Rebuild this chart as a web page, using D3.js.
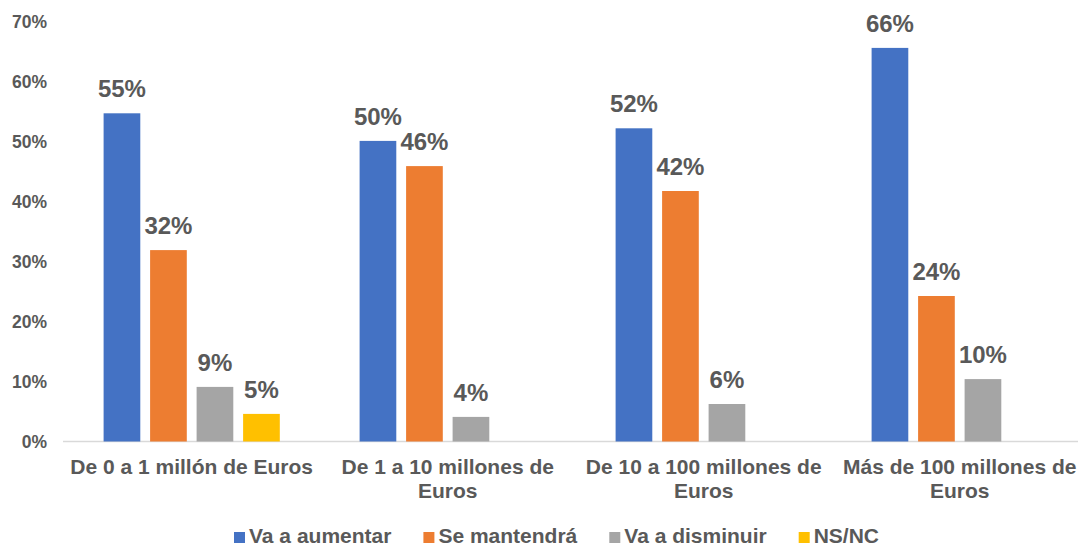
<!DOCTYPE html>
<html>
<head>
<meta charset="utf-8">
<script src="https://cdn.jsdelivr.net/npm/d3@7"></script>
<style>
  html, body { margin: 0; padding: 0; background: #fff; }
  svg { display: block; font-family: "Liberation Sans", Arial, sans-serif; }
</style>
</head>
<body>
<svg id="chart" width="1078" height="547"></svg>
<script>
const categories = [
  "De 0 a 1 millón de Euros",
  "De 1 a 10 millones de Euros",
  "De 10 a 100 millones de Euros",
  "Más de 100 millones de Euros"
];
const seriesNames = ["Va a aumentar", "Se mantendrá", "Va a disminuir", "NS/NC"];
const seriesColors = ["#4472C4", "#ED7D31", "#A5A5A5", "#FFC000"];
const vaAumentar   = [0.547, 0.501, 0.522, 0.656];
const seMantendra  = [0.319, 0.459, 0.4175, 0.2425];
const vaDisminuir  = [0.091, 0.041, 0.0625, 0.104];
const nsnc         = [0.046, null, null, null];
const yTicks = [0, 0.1, 0.2, 0.3, 0.4, 0.5, 0.6, 0.7];

const seriesValues = [vaAumentar, seMantendra, vaDisminuir, nsnc];
const textColor = "#595959";

const svg = d3.select("#chart");

const y = d3.scaleLinear().domain([0, 0.7]).range([441.5, 21.5]);
const x0 = d3.scaleBand().domain(categories).range([63.7, 1087.7]).padding(0);
const x1 = d3.scaleBand().domain(seriesNames).range([39.9, 216.1]).paddingInner(0.211).paddingOuter(0);

// Y axis labels
const yAxis = d3.axisLeft(y).tickValues(yTicks).tickFormat(d3.format(".0%")).tickSize(0).tickPadding(0);
const yg = svg.append("g").attr("transform", "translate(47,0)").call(yAxis);
yg.select(".domain").remove();
yg.selectAll("text")
  .attr("fill", textColor)
  .style("font-size", "17.5px")
  .style("font-weight", "bold")
  .style("font-family", "'Liberation Sans', Arial, sans-serif");

// baseline
svg.append("line")
  .attr("x1", 63).attr("x2", 1078)
  .attr("y1", y(0)).attr("y2", y(0))
  .attr("stroke", "#D9D9D9").attr("stroke-width", 1.5);

// bars
const data = [];
categories.forEach((c, ci) => {
  seriesNames.forEach((s, si) => {
    const v = seriesValues[si][ci];
    if (v != null) data.push({ cat: c, series: s, si, value: v });
  });
});

const g = svg.append("g");
g.selectAll("rect.bar").data(data).enter().append("rect")
  .attr("class", "bar")
  .attr("x", d => x0(d.cat) + x1(d.series))
  .attr("y", d => y(d.value))
  .attr("width", x1.bandwidth())
  .attr("height", d => y(0) - y(d.value))
  .attr("fill", d => seriesColors[d.si]);

g.selectAll("text.lbl").data(data).enter().append("text")
  .attr("class", "lbl")
  .attr("x", d => x0(d.cat) + x1(d.series) + x1.bandwidth() / 2)
  .attr("y", d => y(d.value) - 16)
  .attr("text-anchor", "middle")
  .attr("fill", textColor)
  .style("font-size", "24px")
  .style("font-weight", "bold")
  .text(d => Math.round(d.value * 100) + "%");

// category labels with wrapping
const catG = svg.append("g");
categories.forEach(c => {
  const cx = x0(c) + x0.bandwidth() / 2;
  const t = catG.append("text")
    .attr("x", cx).attr("y", 474)
    .attr("text-anchor", "middle")
    .attr("fill", textColor)
    .style("font-size", "21px")
    .style("font-weight", "bold");
  const words = c.split(" ");
  let line = [];
  let lineNo = 0;
  let tspan = t.append("tspan").attr("x", cx).attr("y", 474);
  const maxW = 252;
  words.forEach(w => {
    line.push(w);
    tspan.text(line.join(" "));
    if (tspan.node().getComputedTextLength() > maxW && line.length > 1) {
      line.pop();
      tspan.text(line.join(" "));
      line = [w];
      lineNo++;
      tspan = t.append("tspan").attr("x", cx).attr("y", 474 + lineNo * 23.5).text(w);
    }
  });
});

// legend
const leg = svg.append("g");
let lx = 234;
seriesNames.forEach((s, i) => {
  leg.append("rect")
    .attr("x", lx).attr("y", 532)
    .attr("width", 11).attr("height", 11)
    .attr("fill", seriesColors[i]);
  const t = leg.append("text")
    .attr("x", lx + 15).attr("y", 542.5)
    .attr("fill", textColor)
    .style("font-size", "21px")
    .style("font-weight", "bold")
    .text(s);
  lx = lx + 15 + t.node().getComputedTextLength() + 32;
});
</script>
</body>
</html>
